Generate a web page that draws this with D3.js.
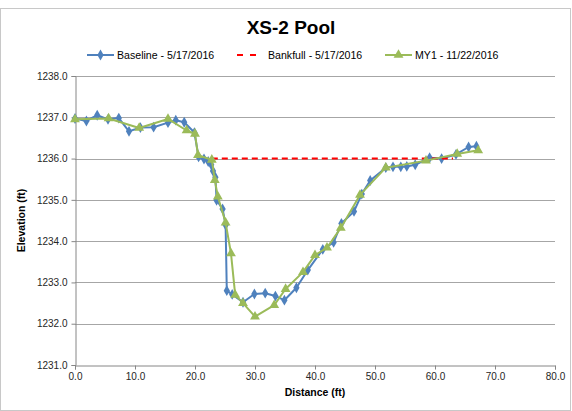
<!DOCTYPE html>
<html>
<head>
<meta charset="utf-8">
<script src="https://cdn.jsdelivr.net/npm/d3@7"></script>
<style>
  html, body { margin: 0; padding: 0; background: #fff; }
  svg { display: block; font-family: "Liberation Sans", Arial, sans-serif; }
</style>
</head>
<body>
<svg id="chart" width="572" height="411"></svg>
<script>
// Cross-section survey: station distance (ft) and elevation (ft)
const baselineDist = [0.0, 1.9, 3.7, 5.5, 7.3, 9.0, 10.9, 13.1, 15.5, 16.8, 18.2, 19.9, 20.6, 21.5, 22.2, 22.7, 23.0, 23.4, 23.6, 24.6, 25.1, 25.3, 26.2, 28.0, 29.9, 31.7, 33.4, 34.9, 36.9, 38.8, 41.3, 43.1, 44.4, 46.5, 47.8, 49.2, 51.8, 53.0, 54.3, 55.3, 56.7, 59.1, 61.1, 63.5, 65.6, 66.9];
const baselineElev = [1236.97, 1236.91, 1237.05, 1236.95, 1236.98, 1236.66, 1236.75, 1236.76, 1236.87, 1236.93, 1236.88, 1236.63, 1236.04, 1235.99, 1235.93, 1235.85, 1235.70, 1235.55, 1234.99, 1234.78, 1234.39, 1232.80, 1232.71, 1232.52, 1232.72, 1232.74, 1232.67, 1232.57, 1232.87, 1233.30, 1233.80, 1233.97, 1234.43, 1234.72, 1235.14, 1235.47, 1235.78, 1235.80, 1235.80, 1235.81, 1235.85, 1236.02, 1236.00, 1236.10, 1236.28, 1236.30];

const bankfullDist = [22.8, 63.0];
const bankfullElev = [1236.0, 1236.0];

const my1Dist = [0.0, 5.6, 10.7, 15.5, 18.6, 20.0, 20.5, 22.8, 23.3, 23.8, 25.1, 26.0, 26.7, 28.0, 30.0, 33.2, 35.1, 38.0, 40.0, 42.0, 44.3, 47.5, 51.8, 58.5, 63.7, 67.2];
const my1Elev = [1236.95, 1236.97, 1236.74, 1236.96, 1236.68, 1236.60, 1236.08, 1235.97, 1235.48, 1235.08, 1234.45, 1233.70, 1232.70, 1232.50, 1232.17, 1232.45, 1232.84, 1233.25, 1233.66, 1233.84, 1234.32, 1235.12, 1235.78, 1235.95, 1236.11, 1236.20];

const xTicks = [0, 10, 20, 30, 40, 50, 60, 70, 80];
const yTicks = [1231, 1232, 1233, 1234, 1235, 1236, 1237, 1238];

const seriesNames = ["Baseline - 5/17/2016", "Bankfull - 5/17/2016", "MY1 - 11/22/2016"];
const seriesColors = ["#4f81bd", "#ff0000", "#9bbb59"];

const svg = d3.select("#chart");
const W = 572, H = 411;
const plot = { left: 75, right: 555, top: 76, bottom: 365 };

// chart frame
svg.append("rect")
  .attr("x", 0.5).attr("y", 8.5).attr("width", W - 2).attr("height", H - 9)
  .attr("fill", "#fff").attr("stroke", "#c8c8c8").attr("stroke-width", 1);

const x = d3.scaleLinear().domain([0, 80]).range([plot.left, plot.right]);
const y = d3.scaleLinear().domain([1231, 1238]).range([plot.bottom, plot.top]);

// horizontal gridlines
svg.append("g")
  .selectAll("line").data(yTicks.slice(1)).join("line")
  .attr("x1", plot.left).attr("x2", plot.right)
  .attr("y1", d => Math.round(y(d)) + 0.5).attr("y2", d => Math.round(y(d)) + 0.5)
  .attr("stroke", "#a6a6a6").attr("stroke-width", 1);

// axes
const xAxis = svg.append("g")
  .attr("transform", `translate(0,${plot.bottom + 0.5})`)
  .call(d3.axisBottom(x).tickValues(xTicks).tickFormat(d3.format(".1f")).tickSize(4).tickPadding(3));
const yAxis = svg.append("g")
  .attr("transform", `translate(${plot.left + 0.5},0)`)
  .call(d3.axisLeft(y).tickValues(yTicks).tickFormat(d3.format(".1f")).tickSize(4).tickPadding(4));

[xAxis, yAxis].forEach(g => {
  g.select(".domain").attr("stroke", "#868686");
  g.selectAll(".tick line").attr("stroke", "#868686");
  g.selectAll(".tick text").attr("fill", "#262626").style("font-size", "10px")
    .style("font-family", "'Liberation Sans', Arial, sans-serif");
});

// axis titles
svg.append("text")
  .attr("x", (plot.left + plot.right) / 2).attr("y", 396)
  .attr("text-anchor", "middle").attr("font-weight", "bold").attr("font-size", "10.5px")
  .attr("fill", "#000").text("Distance (ft)");
svg.append("text")
  .attr("transform", `translate(25,${(plot.top + plot.bottom) / 2}) rotate(-90)`)
  .attr("text-anchor", "middle").attr("font-weight", "bold").attr("font-size", "10.5px")
  .attr("fill", "#000").text("Elevation (ft)");

// title
svg.append("text")
  .attr("x", 291).attr("y", 34)
  .attr("text-anchor", "middle").attr("font-weight", "bold").attr("font-size", "19px")
  .attr("fill", "#000").text("XS-2 Pool");

const line = d3.line().x(d => x(d[0])).y(d => y(d[1]));
const diamond = d3.symbol().type(d3.symbolDiamond).size(34);
const triangle = d3.symbol().type(d3.symbolTriangle).size(42);

const baseline = d3.zip(baselineDist, baselineElev);
const bankfull = d3.zip(bankfullDist, bankfullElev);
const my1 = d3.zip(my1Dist, my1Elev);

// Baseline
svg.append("path").datum(baseline).attr("d", line)
  .attr("fill", "none").attr("stroke", seriesColors[0]).attr("stroke-width", 2)
  .attr("stroke-linejoin", "round");
svg.append("g").selectAll("path").data(baseline).join("path")
  .attr("d", diamond).attr("transform", d => `translate(${x(d[0])},${y(d[1])})`)
  .attr("fill", seriesColors[0]);

// Bankfull
svg.append("path").datum(bankfull).attr("d", line)
  .attr("fill", "none").attr("stroke", seriesColors[1]).attr("stroke-width", 2)
  .attr("stroke-dasharray", "6,4");

// MY1
svg.append("path").datum(my1).attr("d", line)
  .attr("fill", "none").attr("stroke", seriesColors[2]).attr("stroke-width", 2)
  .attr("stroke-linejoin", "round");
svg.append("g").selectAll("path").data(my1).join("path")
  .attr("d", triangle).attr("transform", d => `translate(${x(d[0])},${y(d[1])})`)
  .attr("fill", seriesColors[2]);

// legend
const legendY = 55;
const legendItems = [
  { x0: 87, tx: 117, kind: "diamond" },
  { x0: 237, tx: 268, kind: "dash" },
  { x0: 385, tx: 415, kind: "triangle" }
];
const lg = svg.append("g");
legendItems.forEach((it, i) => {
  const g = lg.append("g");
  if (it.kind === "dash") {
    g.append("line").attr("x1", it.x0).attr("x2", it.x0 + 23)
      .attr("y1", legendY).attr("y2", legendY)
      .attr("stroke", seriesColors[i]).attr("stroke-width", 2).attr("stroke-dasharray", "6,7");
  } else {
    g.append("line").attr("x1", it.x0).attr("x2", it.x0 + 27)
      .attr("y1", legendY).attr("y2", legendY)
      .attr("stroke", seriesColors[i]).attr("stroke-width", 2);
    g.append("path").attr("d", it.kind === "diamond" ? diamond : triangle)
      .attr("transform", `translate(${it.x0 + 13.5},${legendY})`)
      .attr("fill", seriesColors[i]);
  }
  g.append("text").attr("x", it.tx).attr("y", legendY + 3.5)
    .attr("font-size", "10.6px").attr("fill", "#000").text(seriesNames[i]);
});
</script>
</body>
</html>
